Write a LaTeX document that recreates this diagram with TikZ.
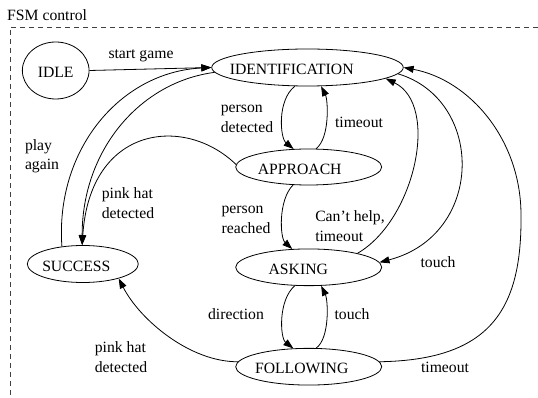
\documentclass[tikz,border=0pt]{standalone}
\usepackage{fontspec}
\setmainfont{Liberation Serif}
\usetikzlibrary{arrows.meta,shapes.geometric}
\newcommand\lblfont{\fontsize{15.7}{19.5}\selectfont}
\begin{document}
\begin{tikzpicture}[x=1pt,y=-1pt,
  state/.style={ellipse,draw,line width=0.8pt,inner sep=0pt},
  stxt/.style={font=\lblfont,inner sep=0pt,yshift=-2pt},
  lbl/.style={font=\lblfont,inner sep=0pt,align=left},
  edge/.style={line width=0.8pt,-{Triangle[length=10pt,width=7pt]}},
  frame/.style={line width=0.8pt,black!75,dash pattern=on 5pt off 4pt}]
\useasboundingbox (0,0) rectangle (538,398);
\draw[frame] (538,27) -- (10,27) -- (10,398);
\node[lbl,anchor=west] (title) at (7,15) {FSM control};

\node[state,minimum width=66.7pt,minimum height=57pt,
  label={[stxt,xshift=0pt]center:IDLE}] (idle) at (55.7,70.5) {};
\node[state,minimum width=191.5pt,minimum height=37pt,
  label={[stxt,xshift=-15.8pt]center:IDENTIFICATION}] (ident) at (307.5,67.5) {};
\node[state,minimum width=146pt,minimum height=36pt,
  label={[stxt,xshift=-9pt]center:APPROACH}] (approach) at (308.7,167) {};
\node[state,minimum width=146pt,minimum height=36.7pt,
  label={[stxt,xshift=-10.4pt]center:ASKING}] (asking) at (308.7,267.3) {};
\node[state,minimum width=146pt,minimum height=36.7pt,
  label={[stxt,xshift=-7pt]center:FOLLOWING}] (following) at (308.7,366.7) {};
\node[state,minimum width=111pt,minimum height=37pt,
  label={[stxt,xshift=-6.5pt]center:SUCCESS}] (success) at (82.8,264) {};

% edges
\draw[edge] (idle.east) -- (ident.180);
\draw[edge] (success.140.4) .. controls (55,150) and (120,72) .. (ident.180);
\draw[edge] (ident.183) .. controls (140,82) and (82,150) .. (success.92);
\draw[edge] (approach.178) .. controls (185,115) and (90,125) .. (success.92);
\draw[edge] (ident.236) .. controls (277,100) and (280,138) .. (approach.130.4);
\draw[edge] (approach.68.6) .. controls (330,138) and (328,100) .. (ident.306);
\draw[edge] (approach.229.6) .. controls (278,200) and (280,238) .. (asking.132.3);
\draw[edge] (asking.16.4) .. controls (415,220) and (440,105) .. (ident.352.5);
\draw[edge] (ident.356.3) .. controls (485,100) and (485,235) .. (asking.4);
\coordinate (far) at (521,215);
\draw[edge] (following.4) .. controls (490,360) and (522,310) .. (far)
   .. controls (521,140) and (470,80) .. (ident.0);
\draw[edge] (asking.233.7) .. controls (278,300) and (280,338) .. (following.130.4);
\draw[edge] (following.68.6) .. controls (330,338) and (328,300) .. (asking.304);
\draw[edge] (following.176) .. controls (190,362) and (140,320) .. (success.338);

% labels
\node[lbl] (l1) at (141,56) {start game};
\node[lbl] (l2) at (42,156) {play\\again};
\node[lbl] (l3) at (128,203) {pink hat\\detected};
\node[lbl] (l4) at (247,119) {person\\detected};
\node[lbl] (l5) at (359,122) {timeout};
\node[lbl] (l6) at (246,220) {person\\reached};
\node[lbl] (l7) at (350,226) {Can’t help,\\timeout};
\node[lbl] (l8) at (438,262) {touch};
\node[lbl] (l9) at (236,314) {direction};
\node[lbl] (l10) at (352,314) {touch};
\node[lbl] (l11) at (121,357) {pink hat\\detected};
\node[lbl] (l12) at (445,367) {timeout};
\end{tikzpicture}
\end{document}
